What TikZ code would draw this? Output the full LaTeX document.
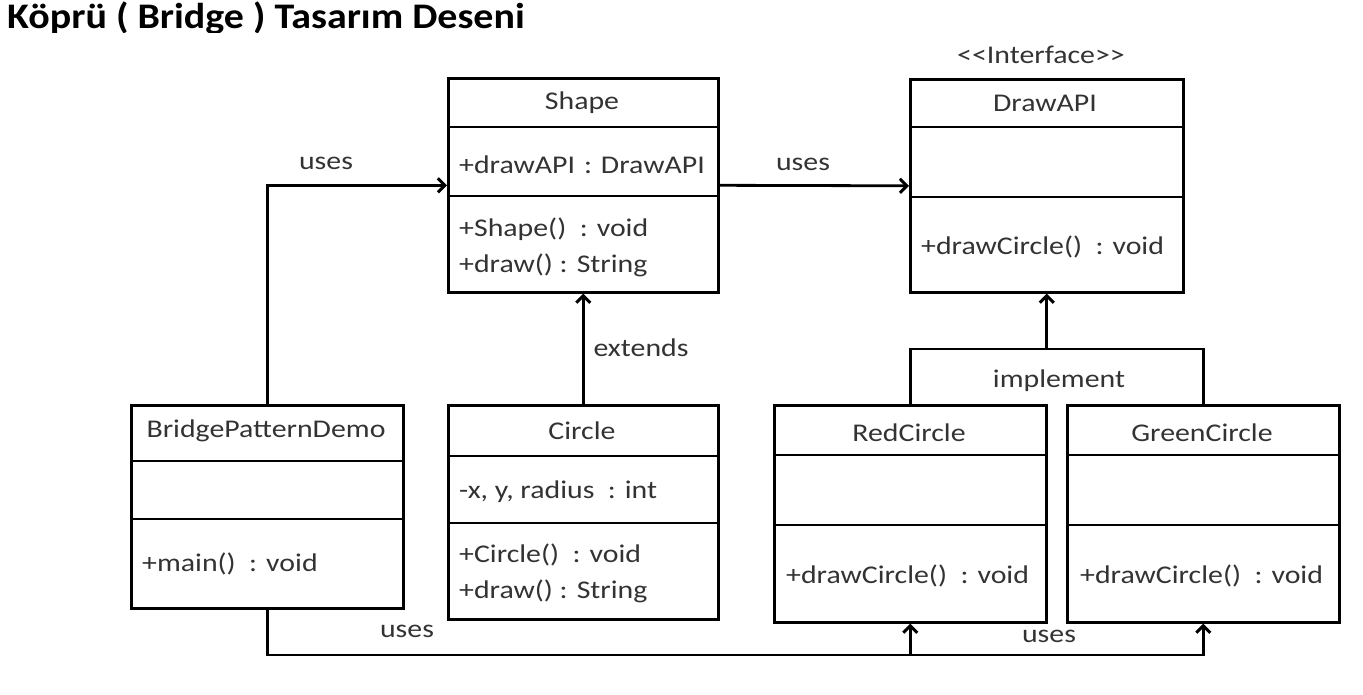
\documentclass[tikz,border=0pt]{standalone}
\usepackage{fontspec}
\setmainfont{Carlito}
\newfontfamily\boxfont{Carlito}[FakeStretch=1.17]
\newfontfamily\titlefont{Carlito}[FakeStretch=1.11,UprightFont=*-Bold]
\usetikzlibrary{arrows.meta}
\begin{document}
\begin{tikzpicture}[x=1pt,y=-1pt,
  box/.style={draw=black,line width=2.6pt,inner sep=0pt,anchor=north west},
  divider/.style={line width=2.6pt},
  txt/.style={text=black!80,font=\boxfont\fontsize{25.5}{30}\selectfont,inner sep=0pt},
  lbl/.style={txt},
  conn/.style={line width=2.8pt,-{Straight Barb[length=7pt,width=14pt,line width=3pt]}},
  line/.style={line width=2.8pt}]
\useasboundingbox (0,0) rectangle (1363,694);
% title (clipped at the bottom as in the reference)
\begin{scope}
\clip (0,0) rectangle (700,32);
\node[anchor=base west,inner sep=0pt,font=\titlefont\fontsize{36}{40}\selectfont] (title) at (7,28) {Köprü ( Bridge ) Tasarım Deseni};
\end{scope}
% Shape
\node[box,minimum width=270pt,minimum height=214pt] (shape) at (447,77) {};
\draw[divider] (447,127) -- (717,127);
\draw[divider] (447,196) -- (717,196);
\node[txt] (shapet) at (582,103) {Shape};
\node[txt,anchor=west] (shapea) at (459,165) {+drawAPI\hspace{0.35em}:\hspace{0.35em}DrawAPI};
\node[txt,anchor=west] (shapem1) at (459,229) {+Shape()\ \ : void};
\node[txt,anchor=west] (shapem2) at (459,265) {+draw()\ : String};
% DrawAPI
\node[txt] (stereo) at (1041,55) {{<}\kern0pt{<}Interface{>}\kern0pt{>}};
\node[box,minimum width=273pt,minimum height=213pt] (drawapi) at (909,78) {};
\draw[divider] (909,127) -- (1182,127);
\draw[divider] (909,197) -- (1182,197);
\node[txt] (drawapit) at (1045,103) {DrawAPI};
\node[txt,anchor=west] (drawapim) at (921,247) {+drawCircle()\ \ : void};
% BridgePatternDemo
\node[box,minimum width=272pt,minimum height=203pt] (bpd) at (130,404) {};
\draw[divider] (130,461) -- (402,461);
\draw[divider] (130,519) -- (402,519);
\node[txt] (bpdt) at (266,431) {BridgePatternDemo};
\node[txt,anchor=west] (bpdm) at (142,564) {+main()\ \ : void};
% Circle
\node[box,minimum width=270pt,minimum height=214pt] (circle) at (447,404) {};
\draw[divider] (447,456) -- (717,456);
\draw[divider] (447,523) -- (717,523);
\node[txt] (circlet) at (582,431) {Circle};
\node[txt,anchor=west] (circlea) at (459,492) {-x, y,\ radius\ \ : int};
\node[txt,anchor=west] (circlem1) at (459,555) {+Circle()\ \ : void};
\node[txt,anchor=west] (circlem2) at (459,591) {+draw()\ : String};
% RedCircle
\node[box,minimum width=272pt,minimum height=217pt] (red) at (773,404) {};
\draw[divider] (773,455) -- (1045,455);
\draw[divider] (773,525) -- (1045,525);
\node[txt] (redt) at (909,433) {RedCircle};
\node[txt,anchor=west] (redm) at (786,576) {+drawCircle()\ \ : void};
% GreenCircle
\node[box,minimum width=272pt,minimum height=217pt] (green) at (1066,404) {};
\draw[divider] (1066,455) -- (1338,455);
\draw[divider] (1066,525) -- (1338,525);
\node[txt] (greent) at (1202,433) {GreenCircle};
\node[txt,anchor=west] (greenm) at (1080,576) {+drawCircle()\ \ : void};
% connectors
\draw[conn] (bpd.north) |- (shape.west);
\node[lbl] (uses1) at (326,163) {uses};
\draw[conn] (shape.east) -- (drawapi.west);
\node[lbl] (uses2) at (803,164) {uses};
\draw[conn] (circle.north) -- (shape.south);
\node[lbl] (ext) at (641,348) {extends};
\coordinate (j) at (drawapi.south |- 0,349);
\draw[line] (red.north) |- (j) -| (green.north);
\draw[conn] (j) -- (drawapi.south);
\node[lbl] (impl) at (1059,381) {implement};
\coordinate (b) at (bpd.south |- 0,655);
\coordinate (rb) at (red.south |- 0,655);
\draw[conn] (bpd.south) -- (b) -| (green.south);
\draw[conn] (rb) -- (red.south);
\node[lbl] (uses3) at (407,631) {uses};
\node[lbl] (uses4) at (1049,636) {uses};
\end{tikzpicture}
\end{document}
